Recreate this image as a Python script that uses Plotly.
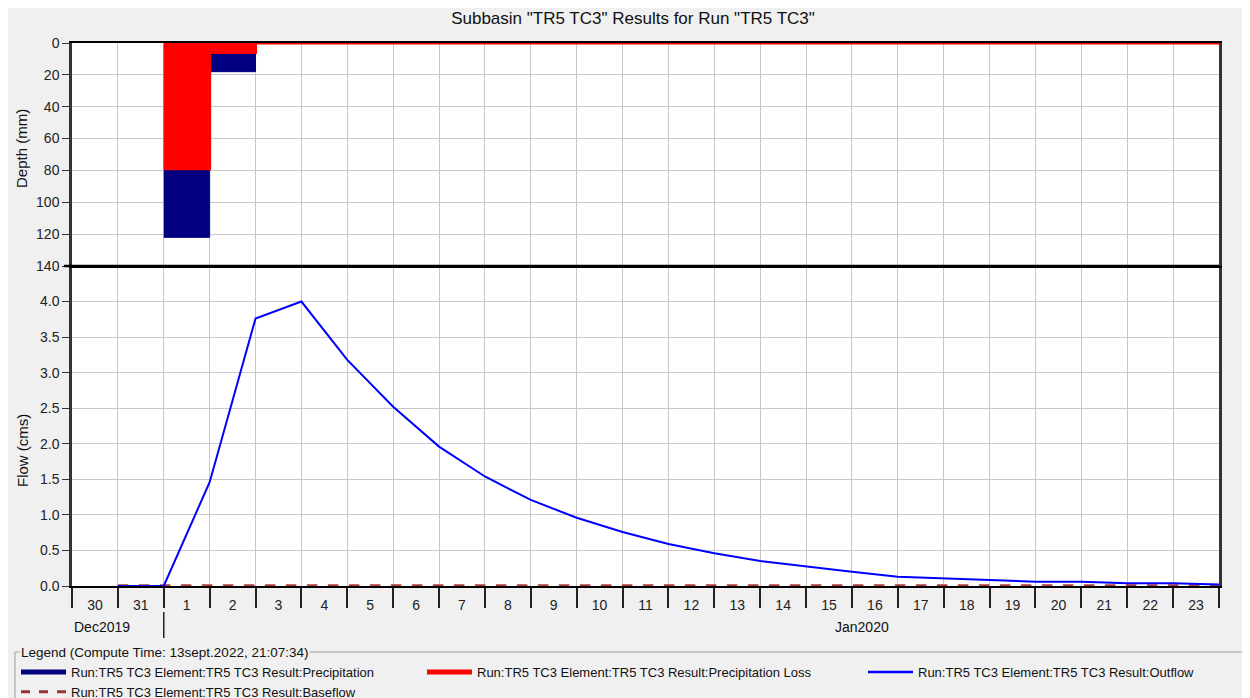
import pandas as pd
import plotly.graph_objects as go

# Interval data (daily)
precip_start = pd.date_range('2020-01-01', '2020-01-23', freq='D')
precipitation = [122, 18, 0, 0, 0, 0, 0, 0, 0, 0, 0, 0, 0, 0, 0, 0, 0, 0, 0, 0, 0, 0, 0]
precip_loss = [79, 6, 0, 0, 0, 0, 0, 0, 0, 0, 0, 0, 0, 0, 0, 0, 0, 0, 0, 0, 0, 0, 0]

# Flow (instantaneous, end of day)
flow_dates = pd.date_range('2019-12-31', '2020-01-24', freq='D')
outflow = [0.0, 0.0, 1.46, 3.76, 4.0, 3.18, 2.52, 1.96, 1.54, 1.21, 0.96, 0.76, 0.59,
           0.46, 0.35, 0.27, 0.20, 0.13, 0.11, 0.08, 0.06, 0.06, 0.04, 0.04, 0.02]
baseflow = [0.0] * len(flow_dates)

names = ['Run:TR5 TC3 Element:TR5 TC3 Result:Precipitation',
         'Run:TR5 TC3 Element:TR5 TC3 Result:Precipitation Loss',
         'Run:TR5 TC3 Element:TR5 TC3 Result:Outflow',
         'Run:TR5 TC3 Element:TR5 TC3 Result:Baseflow']

FONT = 'Liberation Sans, Arial, sans-serif'
# the page adds an 8px body margin, so the figure is 8px smaller than the window
OFF = 8
W, H = 1250 - OFF, 698 - OFF
L, R, T, B = 72, 1219, 43, 586   # plot area in window pixels


def px(x):
    return (x - L) / (R - L)


def py(y):
    return (B - y) / (B - T)


# step series need the end of the last interval
step_x = list(precip_start) + [pd.Timestamp('2020-01-24')]

fig = go.Figure()
fig.add_trace(go.Scatter(x=step_x, y=precipitation + precipitation[-1:], mode='lines',
                         line=dict(shape='hv', color='#000080', width=1), fill='tozeroy',
                         fillcolor='#000080', xaxis='x2', yaxis='y2', showlegend=False))
fig.add_trace(go.Scatter(x=step_x, y=precip_loss + precip_loss[-1:], mode='lines',
                         line=dict(shape='hv', color='#ff0000', width=3), fill='tozeroy',
                         fillcolor='#ff0000', xaxis='x2', yaxis='y2', showlegend=False))
fig.add_trace(go.Scatter(x=flow_dates, y=baseflow, mode='lines',
                         line=dict(color='#b03a3a', width=3.5, dash='dash'), showlegend=False))
fig.add_trace(go.Scatter(x=flow_dates, y=outflow, mode='lines',
                         line=dict(color='#0000ff', width=2), showlegend=False))

# legend entries drawn as lines like the original
legend_styles = [dict(color='#000080', width=5), dict(color='#ff0000', width=5),
                 dict(color='#0000ff', width=2.5), dict(color='#993333', width=3, dash='dash')]
legend_ids = ['legend', 'legend2', 'legend3', 'legend']
for n, st, lg in zip(names, legend_styles, legend_ids):
    fig.add_trace(go.Scatter(x=[None], y=[None], mode='lines', line=st, name=n, legend=lg))

xcommon = dict(type='date', range=['2019-12-30', '2020-01-24'], dtick=86400000,
               tick0='2019-12-30', showgrid=True, gridcolor='#c8c8c8', gridwidth=1,
               zeroline=False, fixedrange=True)
yfont = dict(size=14, color='#222')
legfont = dict(size=13, color='#111')
leg_common = dict(xanchor='left', yanchor='top', font=legfont, bgcolor='rgba(0,0,0,0)',
                  itemwidth=45, orientation='v', tracegroupgap=0)

fig.update_layout(
    width=W, height=H,
    margin=dict(l=L - OFF, r=1250 - R, t=T - OFF, b=698 - B, autoexpand=False),
    paper_bgcolor='#f0f0f0', plot_bgcolor='white',
    font=dict(family=FONT, size=14, color='#111'),
    title=dict(text='Subbasin "TR5 TC3" Results for Run "TR5 TC3"', xref='container',
               x=(633 - OFF) / W, xanchor='center', yref='container',
               y=1 - (18 - OFF) / H, yanchor='middle', font=dict(size=17, color='#111')),
    xaxis=dict(**xcommon, anchor='y', domain=[0, 1], ticklabelmode='period', tickformat='%-d',
               ticks='outside', ticklen=20, tickcolor='#222', tickwidth=1.5,
               ticklabelstandoff=-15, tickfont=yfont, layer='below traces',
               showline=True, linecolor='black', linewidth=2, mirror=False),
    xaxis2=dict(**xcommon, anchor='y2', matches='x', showticklabels=False, ticks='',
                showline=True, linecolor='black', linewidth=2, mirror=True, layer='below traces'),
    yaxis=dict(domain=[0, py(266)], range=[0, 4.5], tickvals=[0, 0.5, 1, 1.5, 2, 2.5, 3, 3.5, 4],
               tickformat='.1f', showgrid=True, gridcolor='#c8c8c8', zeroline=False,
               ticks='outside', ticklen=7, tickcolor='#333', showline=True, tickfont=yfont,
               linecolor='#333', linewidth=2.5, mirror=True, fixedrange=True),
    yaxis2=dict(domain=[py(266), 1], range=[140, 0], dtick=20, showgrid=True, gridcolor='#c8c8c8',
                zeroline=False, ticks='outside', ticklen=7, tickcolor='#333', showline=True,
                tickfont=yfont, linecolor='#333', linewidth=2.5, mirror=True, fixedrange=True),
    legend=dict(**leg_common, x=px(16), y=py(657)),
    legend2=dict(**leg_common, x=px(422), y=py(657)),
    legend3=dict(**leg_common, x=px(863), y=py(657)),
    showlegend=True,
)

shapes = [
    # thick separator between panels
    dict(type='line', xref='paper', yref='paper', x0=px(64), x1=px(R), y0=py(266), y1=py(266),
         line=dict(color='black', width=2.5)),
    # month boundary marker
    dict(type='line', xref='x', yref='paper', x0='2020-01-01', x1='2020-01-01',
         y0=py(612), y1=py(638), line=dict(color='#222', width=1.5)),
    # legend group box
    dict(type='line', xref='paper', yref='paper', x0=px(15), x1=px(1250), y0=py(652), y1=py(652),
         line=dict(color='#a0a0a0', width=1)),
    dict(type='line', xref='paper', yref='paper', x0=px(15), x1=px(15), y0=py(652), y1=py(698),
         line=dict(color='#a0a0a0', width=1)),
]
fig.update_layout(shapes=shapes)

ann = dict(xref='paper', yref='paper', xanchor='center', yanchor='middle', showarrow=False)
annotations = [
    dict(**ann, text='Depth (mm)', x=px(22), y=py(149), textangle=-90,
         font=dict(size=15, color='#111')),
    dict(**ann, text='Flow (cms)', x=px(22), y=py(451), textangle=-90,
         font=dict(size=15, color='#111')),
    dict(**ann, text='Dec2019', x=px(102), y=py(627), font=dict(size=14, color='#111')),
    dict(**ann, text='Jan2020', x=px(862), y=py(627), font=dict(size=14, color='#111')),
    dict(xref='paper', yref='paper', xanchor='left', yanchor='middle', showarrow=False,
         text='Legend (Compute Time: 13sept.2022, 21:07:34)', x=px(19), y=py(652),
         bgcolor='#f0f0f0', borderpad=1, font=dict(size=13.5, color='#111')),
]
fig.update_layout(annotations=annotations)

fig.write_html('out.html')
